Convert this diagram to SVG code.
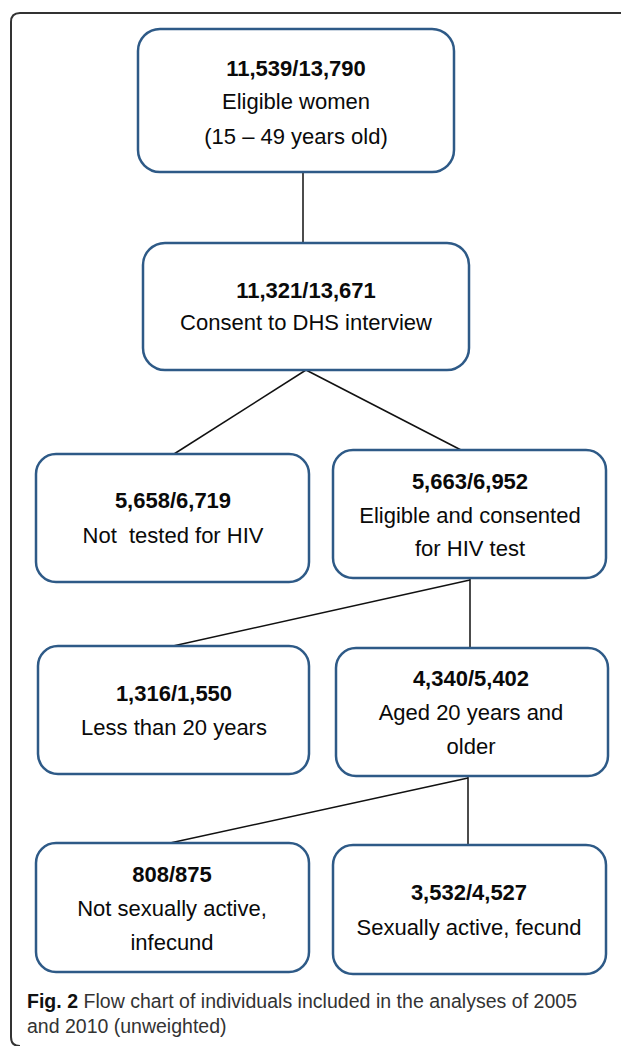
<svg xmlns="http://www.w3.org/2000/svg" width="621" height="1046" viewBox="0 0 621 1046">
<style>
.box{fill:#fff;stroke:#2e5a87;stroke-width:2.5}
.t{font-family:"Liberation Sans",Arial,sans-serif;font-size:22px;fill:#0a0a0a;text-anchor:middle}
.b{font-weight:bold}
.conn line{stroke:#111;stroke-width:1.5}
.cap{font-family:"Liberation Sans",Arial,sans-serif;font-size:19.5px;fill:#333}
</style>
<rect width="621" height="1046" fill="#fff"/>
<path d="M621,13 H20 Q11,13 11,22 V1037 Q11,1046 20,1046" fill="none" stroke="#333" stroke-width="2"/>
<g id="connectors" class="conn">
<line x1="303" y1="172" x2="303" y2="243"/>
<line x1="306" y1="370" x2="174" y2="454"/>
<line x1="306" y1="370" x2="461" y2="450"/>
<line x1="470" y1="580" x2="173" y2="646"/>
<line x1="470" y1="578" x2="470" y2="648"/>
<line x1="468" y1="778" x2="170" y2="843"/>
<line x1="468" y1="776" x2="468" y2="845"/>
</g>
<g id="n1"><rect class="box" x="138" y="29" width="316" height="143" rx="22"/>
<text class="t b" x="296" y="76">11,539/13,790</text>
<text class="t" x="296" y="109">Eligible women</text>
<text class="t" x="296" y="144">(15 – 49 years old)</text></g>
<g id="n2"><rect class="box" x="143" y="243" width="326" height="127" rx="22"/>
<text class="t b" x="306" y="298">11,321/13,671</text>
<text class="t" x="306" y="330">Consent to DHS interview</text></g>
<g id="n3"><rect class="box" x="36" y="454" width="273" height="128" rx="20"/>
<text class="t b" x="173" y="508">5,658/6,719</text>
<text class="t" x="173" y="543" xml:space="preserve">Not  tested for HIV</text></g>
<g id="n4"><rect class="box" x="333" y="450" width="273" height="128" rx="20"/>
<text class="t b" x="470" y="489">5,663/6,952</text>
<text class="t" x="470" y="523">Eligible and consented</text>
<text class="t" x="470" y="556">for HIV test</text></g>
<g id="n5"><rect class="box" x="38" y="646" width="271" height="128" rx="20"/>
<text class="t b" x="174" y="701">1,316/1,550</text>
<text class="t" x="174" y="735">Less than 20 years</text></g>
<g id="n6"><rect class="box" x="336" y="648" width="272" height="128" rx="20"/>
<text class="t b" x="471" y="686">4,340/5,402</text>
<text class="t" x="471" y="720">Aged 20 years and</text>
<text class="t" x="471" y="754">older</text></g>
<g id="n7"><rect class="box" x="36" y="843" width="273" height="129" rx="20"/>
<text class="t b" x="172" y="882">808/875</text>
<text class="t" x="172" y="916">Not sexually active,</text>
<text class="t" x="172" y="950">infecund</text></g>
<g id="n8"><rect class="box" x="333" y="845" width="273" height="129" rx="20"/>
<text class="t b" x="469" y="900">3,532/4,527</text>
<text class="t" x="469" y="935">Sexually active, fecund</text></g>
<g id="caption">
<text class="cap" x="27" y="1008" textLength="550"><tspan font-weight="bold" fill="#111">Fig. 2</tspan> Flow chart of individuals included in the analyses of 2005</text>
<text class="cap" x="27" y="1033">and 2010 (unweighted)</text>
</g>
</svg>
